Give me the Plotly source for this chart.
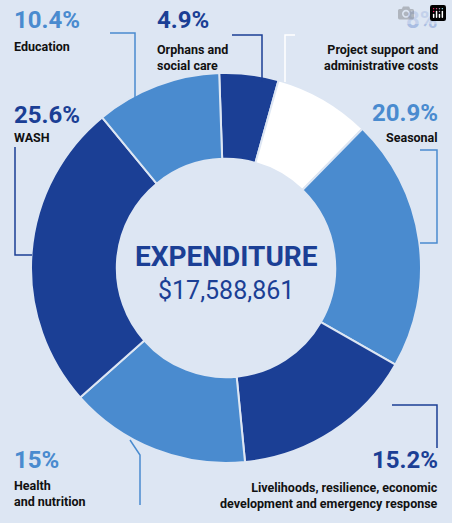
import plotly.graph_objects as go

labels = ["Orphans and social care", "Project support and administrative costs", "Seasonal",
          "Livelihoods, resilience, economic development and emergency response",
          "Health and nutrition", "WASH", "Education"]
values = [4.9, 8, 20.9, 15.2, 15, 25.6, 10.4]
colors = ["#1b3f95", "#ffffff", "#4a8bcf", "#1b3f95", "#4a8bcf", "#1b3f95", "#4a8bcf"]
pct_colors = ["#1b3f95", "#a9bde2", "#4a8bcf", "#1b3f95", "#4a8bcf", "#1b3f95", "#4a8bcf"]
pct_text = ["4.9%", "8%", "20.9%", "15.2%", "15%", "25.6%", "10.4%"]
cap_text = ["Orphans and<br>social care", "Project support and<br>administrative costs", "Seasonal",
            "Livelihoods, resilience, economic<br>development and emergency response",
            "Health<br>and nutrition", "WASH", "Education"]
W, H = 452, 523

fig = go.Figure(go.Pie(
    labels=labels, values=values, sort=False, direction="clockwise", rotation=-2,
    hole=0.56, marker=dict(colors=colors, line=dict(color="#dde6f3", width=2)),
    textinfo="none", showlegend=False,
    domain=dict(x=[31 / W, 421 / W], y=[1 - 463 / H, 1 - 73 / H]),
))

def px(x, y):
    return x / W, 1 - y / H

# (pct x, pct y, caption x, caption y, align)
pos = [(155, 20, 155, 57, "left"), (440, 20, 440, 57, "right"), (440, 113, 440, 137, "right"),
       (440, 460, 440, 495, "right"), (12, 460, 12, 493, "left"), (12, 115, 12, 137, "left"),
       (12, 20, 12, 46, "left")]
ann = []
for i, (x1, y1, x2, y2, al) in enumerate(pos):
    ax, ay = px(x1, y1)
    bx, by = px(x2, y2)
    xa = "left" if al == "left" else "right"
    ann.append(dict(x=ax, y=ay, xref="paper", yref="paper", text="<b>%s</b>" % pct_text[i],
                    showarrow=False, xanchor=xa, yanchor="middle", align=al,
                    font=dict(size=24, color=pct_colors[i], family="Roboto")))
    ann.append(dict(x=bx, y=by, xref="paper", yref="paper", text="<b>%s</b>" % cap_text[i],
                    showarrow=False, xanchor=xa, yanchor="middle", align=al,
                    font=dict(size=12.5, color="#111111", family="Roboto")))
cx, cy = px(226, 256)
ann.append(dict(x=cx, y=cy, xref="paper", yref="paper", text="<b>EXPENDITURE</b>", showarrow=False,
                font=dict(size=28, color="#1b3f95", family="Roboto")))
cx, cy = px(226, 290)
ann.append(dict(x=cx, y=cy, xref="paper", yref="paper", text="$17,588,861", showarrow=False,
                font=dict(size=25, color="#1b3f95", family="Roboto")))

leaders = [
    ([(110, 33), (135, 33), (135, 100)], "#4a8bcf"),
    ([(232, 35), (262, 35), (262, 82)], "#1b3f95"),
    ([(295, 35), (285, 35), (285, 82)], "#ffffff"),
    ([(420, 150), (437, 150), (437, 243), (420, 243)], "#4a8bcf"),
    ([(437, 448), (437, 405), (392, 405)], "#1b3f95"),
    ([(140, 505), (140, 455), (130, 440)], "#4a8bcf"),
    ([(15, 147), (15, 255), (32, 255)], "#1b3f95"),
]
shapes = []
for pts, c in leaders:
    path = "M " + " L ".join("%f,%f" % px(x, y) for x, y in pts)
    shapes.append(dict(type="path", xref="paper", yref="paper", path=path,
                       line=dict(color=c, width=1.5)))

fig.update_layout(width=W, height=H, margin=dict(l=0, r=0, t=0, b=0),
                  paper_bgcolor="#dde6f3", plot_bgcolor="#dde6f3",
                  annotations=ann, shapes=shapes)
fig.write_html("out.html",
               post_script="document.body.style.margin='0';document.body.style.overflow='hidden';"
                           "document.body.style.background='#dde6f3';")
